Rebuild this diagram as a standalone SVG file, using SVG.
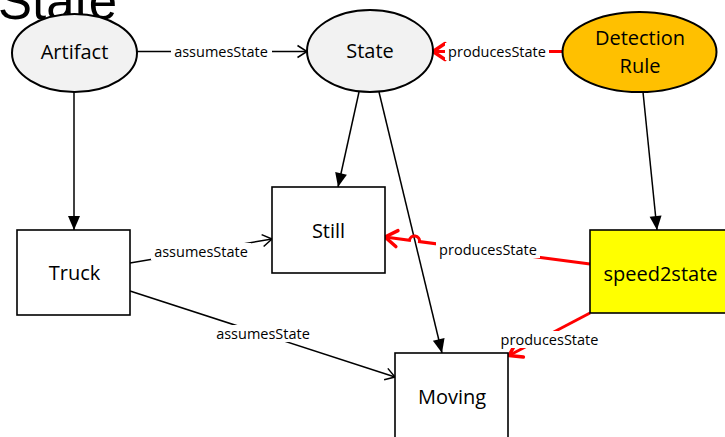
<svg xmlns="http://www.w3.org/2000/svg" width="725" height="437" viewBox="0 0 725 437">
  <style>
    .title { font-family: "Liberation Sans", Arial, sans-serif; font-size: 51px; fill: #000; }
    .node-ell { fill: #F2F2F2; stroke: #000; stroke-width: 2; }
    .node-box { fill: #FFFFFF; stroke: #000; stroke-width: 1.6; }
    .node-text { font-family: "Open Sans", "Liberation Sans", sans-serif; font-size: 20px; fill: #000; text-anchor: middle; }
    .edge { fill: none; stroke: #000; stroke-width: 1.5; }
    .edge-red { fill: none; stroke: #FF0000; stroke-width: 3; }
    .edge-label { font-family: "Open Sans", "Liberation Sans", sans-serif; font-size: 14.5px; fill: #000; text-anchor: middle; }
    .label-bg { fill: #FFFFFF; }
  </style>
  <defs>
    <marker id="tri" markerUnits="userSpaceOnUse" viewBox="0 0 14 12" refX="14" refY="6" markerWidth="14" markerHeight="12" orient="auto" overflow="visible">
      <path d="M0,0 L14,6 L0,12 Z" fill="#000"/>
    </marker>
    <marker id="open" markerUnits="userSpaceOnUse" viewBox="0 0 10 12" refX="9.5" refY="6" markerWidth="10" markerHeight="12" orient="auto" overflow="visible">
      <path d="M0,0 L9.5,6 L0,12" fill="none" stroke="#000" stroke-width="1.5"/>
    </marker>
    <marker id="openRed" markerUnits="userSpaceOnUse" viewBox="0 0 14 18" refX="13" refY="9" markerWidth="14" markerHeight="18" orient="auto" overflow="visible">
      <path d="M1,1 L13,9 L1,17" fill="none" stroke="#FF0000" stroke-width="3.5" stroke-linecap="round" stroke-linejoin="round"/>
    </marker>
  </defs>

  <rect x="0" y="0" width="725" height="437" fill="#FFFFFF"/>

  <!-- heading, partly above the top edge -->
  <text class="title" x="-2" y="19">State</text>

  <!-- connectors -->
  <g id="connectors">
    <!-- Artifact -> State -->
    <path class="edge" d="M137,51.5 L307,51.5" marker-end="url(#open)"/>
    <!-- Detection Rule -> State -->
    <path class="edge-red" d="M563,51.5 L433,51.5" marker-end="url(#openRed)"/>
    <!-- Artifact -> Truck -->
    <path class="edge" d="M74,92 L74,230" marker-end="url(#tri)"/>
    <!-- State -> Still -->
    <path class="edge" d="M359,92 L338,187" marker-end="url(#tri)"/>
    <!-- State -> Moving -->
    <path class="edge" d="M379,92 L442,353" marker-end="url(#tri)"/>
    <!-- Detection Rule -> speed2state -->
    <path class="edge" d="M643,92 L657,230" marker-end="url(#tri)"/>
    <!-- Truck -> Still -->
    <path class="edge" d="M130,263 L272,239" marker-end="url(#open)"/>
    <!-- Truck -> Moving -->
    <path class="edge" d="M130,291 L395,377" marker-end="url(#open)"/>
    <!-- speed2state -> Still, hopping over State -> Moving -->
    <path class="edge-red" d="M590,264 L419.5,241.6 A5,5 0 0 0 409.5,240.3 L385,237" marker-end="url(#openRed)"/>
    <!-- speed2state -> Moving -->
    <path class="edge-red" d="M590,313 L509,355.5" marker-end="url(#openRed)"/>

    <!-- edge labels -->
    <rect class="label-bg" x="171" y="43" width="101" height="17"/>
    <text class="edge-label" x="221" y="56.5">assumesState</text>

    <rect class="label-bg" x="445" y="43" width="104" height="17"/>
    <text class="edge-label" x="497" y="56.5">producesState</text>

    <rect class="label-bg" x="151" y="243" width="100" height="17"/>
    <text class="edge-label" x="201" y="257">assumesState</text>

    <rect class="label-bg" x="213" y="325" width="100" height="17"/>
    <text class="edge-label" x="263" y="339">assumesState</text>

    <rect class="label-bg" x="436" y="241" width="104" height="17"/>
    <text class="edge-label" x="488" y="255">producesState</text>

    <rect class="label-bg" x="497" y="331" width="105" height="17"/>
    <text class="edge-label" x="549.5" y="345">producesState</text>
  </g>

  <!-- nodes -->
  <g id="artifact">
    <ellipse class="node-ell" cx="74.5" cy="53" rx="62.5" ry="39"/>
    <text class="node-text" x="74.5" y="59">Artifact</text>
  </g>
  <g id="state">
    <ellipse class="node-ell" cx="370" cy="51" rx="63" ry="41"/>
    <text class="node-text" x="370" y="58">State</text>
  </g>
  <g id="detection-rule">
    <ellipse class="node-ell" cx="639.5" cy="52" rx="77" ry="40" style="fill:#FFC000"/>
    <text class="node-text" x="640" y="45">Detection</text>
    <text class="node-text" x="640" y="73">Rule</text>
  </g>
  <g id="still">
    <rect class="node-box" x="272" y="187" width="113" height="86"/>
    <text class="node-text" x="328.5" y="238">Still</text>
  </g>
  <g id="truck">
    <rect class="node-box" x="17" y="230" width="113" height="85"/>
    <text class="node-text" x="74.5" y="280">Truck</text>
  </g>
  <g id="moving">
    <rect class="node-box" x="395" y="353" width="113" height="90"/>
    <text class="node-text" x="452" y="403.5">Moving</text>
  </g>
  <g id="speed2state">
    <rect class="node-box" x="590" y="230" width="180" height="83" style="fill:#FFFF00"/>
    <text class="node-text" x="660.5" y="281">speed2state</text>
  </g>
</svg>
